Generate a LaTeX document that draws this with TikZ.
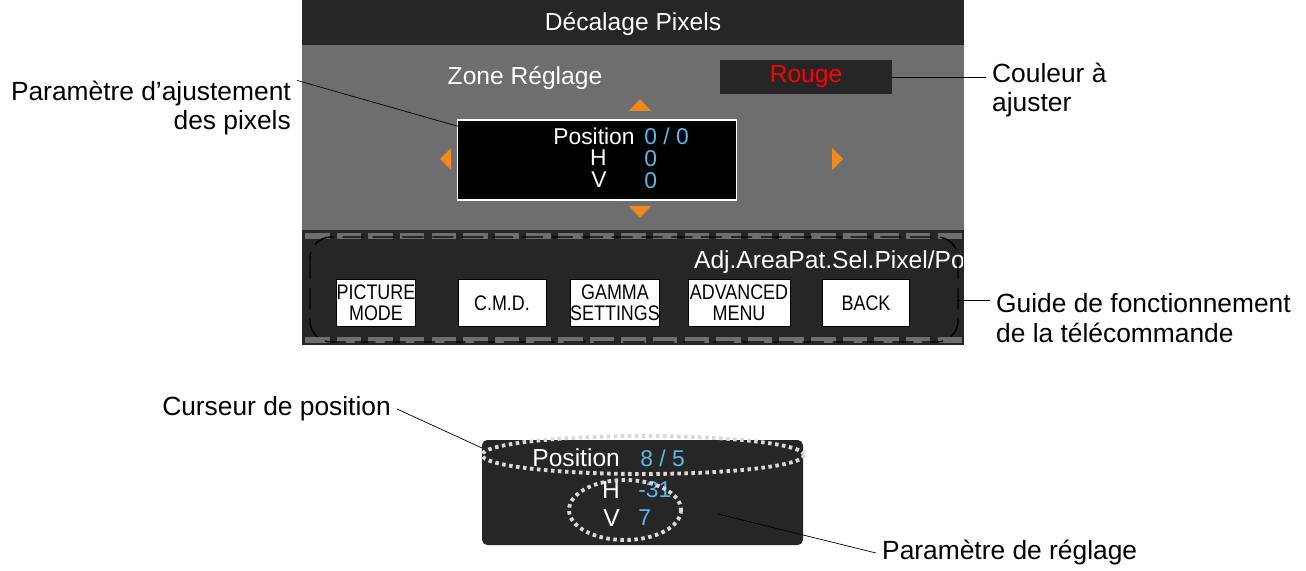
\documentclass[tikz,border=0pt]{standalone}
\usepackage{fontspec}
\setmainfont{Liberation Sans}
\usetikzlibrary{positioning}
\definecolor{panel}{HTML}{262626}
\definecolor{zone}{HTML}{6E6E6E}
\definecolor{val}{HTML}{5BB8E8}
\definecolor{arr}{HTML}{F08A1C}
\begin{document}
\begin{tikzpicture}[x=0.02cm,y=-0.02cm]
	\tikzstyle{Label} = [font=\fontsize{15}{17}\selectfont, text=black, align=left]
	\tikzstyle{Menu} = [font=\fontsize{14}{16}\selectfont, text=white, inner sep=1pt]
	\tikzstyle{Small} = [font=\fontsize{13}{13}\selectfont, text=white, inner sep=0pt]
	\tikzstyle{Value} = [font=\fontsize{13}{13}\selectfont, text=val, inner sep=0pt]
	\tikzstyle{Button} = [rectangle, draw=black, fill=white, inner sep=0pt, font=\fontsize{12}{12}\selectfont\addfontfeatures{FakeStretch=0.85}, align=center, minimum height=0.94cm]
	\tikzstyle{Marker} = [fill=arr, draw=none]
	\tikzstyle{Callout} = [thin, black]
	\tikzstyle{Dots} = [white!85!black, line width=2.2pt, dash pattern=on 2pt off 2pt]
	\useasboundingbox (0,0) rectangle (1306,571);
	% panel
	\fill[panel] (302,0) rectangle (964,345);
	\fill[zone] (302,45) rectangle (964,230);
	\node (title) [Menu] at (633,24) {Décalage Pixels};
	\node (zone) [Menu] at (525,78) {Zone Réglage};
	\node (rouge) [rectangle, fill=panel, minimum width=3.44cm, minimum height=0.6cm, text=red, font=\fontsize{14}{16}\selectfont] at (806,77) {Rouge};
	\node (box) [rectangle, draw=white, thick, fill=black, minimum width=5.58cm, minimum height=1.6cm] at (597,160) {};
	\node (pos) [Small, anchor=east] at (635,136) {Position};
	\node (posv) [Value, anchor=west] at (644,136) {0 / 0};
	\node (h) [Small, anchor=east] at (607,158) {H};
	\node (hv) [Value, anchor=west] at (644,159) {0};
	\node (v) [Small, anchor=east] at (607,180) {V};
	\node (vv) [Value, anchor=west] at (644,181) {0};
	\fill[Marker] (629,111) -- (651,111) -- (640,99) -- cycle;
	\fill[Marker] (629,206) -- (651,206) -- (640,218) -- cycle;
	\fill[Marker] (451,148) -- (451,170) -- (440,159) -- cycle;
	\fill[Marker] (832,148) -- (832,170) -- (843,159) -- cycle;
	% guide bar
	\fill[panel] (302,230) rectangle (964,345);
	\foreach \y in {236,340}
		\draw[zone, line width=3pt, dash pattern=on 14pt off 4pt] (305,\y) -- (962,\y);
	\begin{scope}
		\clip (302,240) rectangle (962,290);
		\node (guide) [Menu, anchor=west] at (692,262) {Adj.AreaPat.Sel.Pixel/Pos};
	\end{scope}
	\node (b1) [Button, minimum width=1.34cm] at (376,303) {PICTURE\\MODE};
	\node (b2) [Button, minimum width=1.76cm] at (502,303) {C.M.D.};
	\node (b3) [Button, minimum width=1.72cm] at (615,303) {GAMMA\\SETTINGS};
	\node (b4) [Button, minimum width=2.04cm] at (739,303) {ADVANCED\\MENU};
	\node (b5) [Button, minimum width=1.74cm] at (866,303) {BACK};
	\draw[black, thick, dash pattern=on 12pt off 5pt, rounded corners=12pt] (310,237) rectangle (958,342);
	% callouts
	\node (adj) [Label, align=right, anchor=east] at (297,108) {Paramètre d’ajustement\\des pixels};
	\node (coul) [Label, anchor=west] at (986,90) {Couleur à\\ajuster};
	\node (gd) [Label, anchor=west] at (990,318) {Guide de fonctionnement\\de la télécommande};
	\coordinate (adjend) at (590,164);
	\draw[Callout] (adj.north east) ++(0,6) -- (adjend);
	\draw[Callout] (rouge.east) -- (coul.west |- rouge.east);
	\draw[Callout] (958,300) -- (gd.west |- 0,300);
	% zoomed position
	\fill[panel, rounded corners=3pt] (482,440) rectangle (803,545);
	\node (pos2) [Menu, anchor=east] at (622,458) {Position};
	\node (posv2) [Value, anchor=west] at (640,458) {8 / 5};
	\node (h2) [Menu, anchor=east] at (622,490) {H};
	\node (hv2) [Value, anchor=west] at (638,490) {-31};
	\node (v2) [Menu, anchor=east] at (622,518) {V};
	\node (vv2) [Value, anchor=west] at (638,518) {7};
	\draw[Dots] (643,455) ellipse [x radius=161, y radius=19];
	\draw[Dots] (625,510) ellipse [x radius=56, y radius=30];
	\node (curs) [Label, anchor=east] at (397,409) {Curseur de position};
	\node (regl) [Label, anchor=west] at (876,553) {Paramètre de réglage};
	\coordinate (cursend) at (482,448);
	\coordinate (reglend) at (718,514);
	\draw[Callout] (curs.east) -- (cursend);
	\draw[Callout] (reglend) -- (regl.west);
\end{tikzpicture}
\end{document}
